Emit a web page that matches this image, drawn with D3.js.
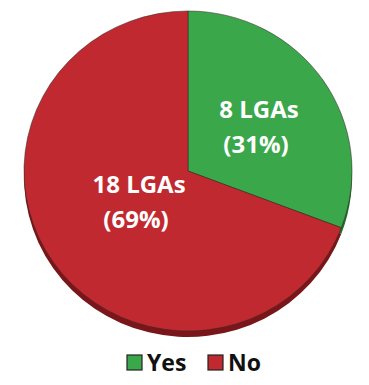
<!DOCTYPE html>
<html>
<head>
<meta charset="utf-8">
<script src="https://cdn.jsdelivr.net/npm/d3@7"></script>
<style>
  body { margin: 0; background: #fff; }
  svg { display: block; }
</style>
</head>
<body>
<div id="chart"></div>
<script>
"use strict";

var categories = ["Yes", "No"];
var counts = [8, 18];
var percents = [31, 69];
var colors = ["#3aa74b", "#c0292f"];
var sideColors = ["#1f6e2a", "#7a1519"];

var width = 369;
var height = 385;
var cx = 188;
var cy = 171;
var rx = 164;
var ry = 160;
var depth = 6;

var svg = d3.select("#chart").append("svg")
  .attr("width", width)
  .attr("height", height);

var data = categories.map(function (c, i) {
  return { name: c, value: counts[i], pct: percents[i], color: colors[i], side: sideColors[i] };
});

var pie = d3.pie().sort(null).value(function (d) { return d.value; });
var arcs = pie(data);
var arc = d3.arc().innerRadius(0).outerRadius(rx);

// 3d rim at bottom
var rim = svg.append("g")
  .attr("transform", "translate(" + cx + "," + (cy + depth) + ") scale(1," + (ry / rx) + ")");
rim.selectAll("path").data(arcs).enter().append("path")
  .attr("d", arc)
  .attr("fill", function (d) { return d.data.side; });

var face = svg.append("g")
  .attr("transform", "translate(" + cx + "," + cy + ") scale(1," + (ry / rx) + ")");
face.selectAll("path").data(arcs).enter().append("path")
  .attr("d", arc)
  .attr("fill", function (d) { return d.data.color; })
  .attr("stroke", "#3a2a2a")
  .attr("stroke-width", 0.8)
  .attr("stroke-opacity", 0.7);

// labels
var labelPos = [[259, 118], [139, 193]];
var labels = svg.selectAll(".lbl").data(arcs).enter().append("text")
  .attr("class", "lbl")
  .attr("text-anchor", "middle")
  .attr("fill", "#fff")
  .attr("font-family", "'Open Sans', sans-serif")
  .attr("font-weight", "bold")
  .attr("font-size", 24)
  .attr("transform", function (d, i) {
    return "translate(" + labelPos[i][0] + "," + labelPos[i][1] + ")";
  });
labels.append("tspan").attr("x", 0).attr("y", 0)
  .text(function (d) { return d.data.value + " LGAs"; });
labels.append("tspan").attr("x", -3).attr("y", 35)
  .text(function (d) { return "(" + d.data.pct + "%)"; });

// legend
var legX = d3.scaleOrdinal().domain(categories).range([127, 208]);
var legend = svg.selectAll(".leg").data(data).enter().append("g")
  .attr("class", "leg")
  .attr("transform", function (d) { return "translate(" + legX(d.name) + ",355)"; });
legend.append("rect")
  .attr("width", 15).attr("height", 15)
  .attr("fill", function (d) { return d.color; })
  .attr("stroke", "#222").attr("stroke-width", 1.2);
legend.append("text")
  .attr("x", 20).attr("y", 16)
  .attr("font-family", "'Open Sans', sans-serif")
  .attr("font-weight", "bold")
  .attr("font-size", 23)
  .attr("fill", "#111")
  .text(function (d) { return d.name; });
</script>
</body>
</html>
